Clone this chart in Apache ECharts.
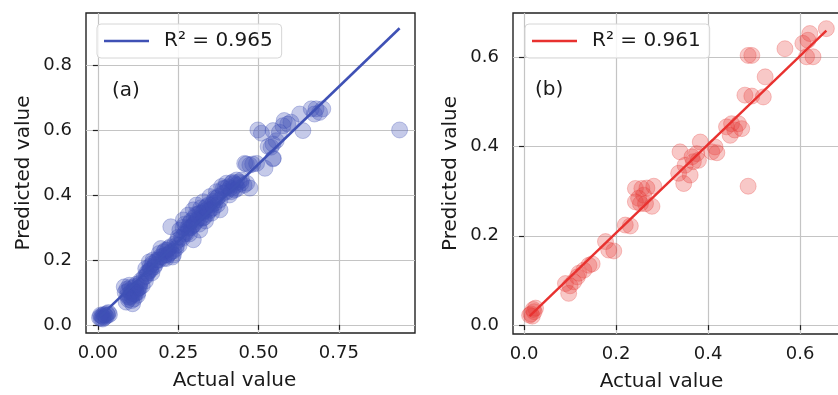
<!DOCTYPE html>
<html>
<head>
<meta charset="utf-8">
<script src="https://cdn.jsdelivr.net/npm/echarts@6/dist/echarts.min.js"></script>
<style>html,body{margin:0;padding:0;background:#fff}#c{width:838px;height:395px}</style>
</head>
<body>
<div id="c"></div>
<script>
// Panel (a)
const aActual = [0.005,0.01,0.012,0.015,0.018,0.02,0.022,0.025,0.028,0.03,0.033,0.036,0.015,0.008,
0.082,0.088,0.092,0.095,0.098,0.1,0.103,0.106,0.108,0.11,0.113,0.115,0.118,0.12,0.123,0.126,0.129,0.132,0.134,0.138,
0.085,0.09,0.095,0.1,0.105,0.11,0.115,0.12,0.125,0.13,0.105,0.095,
0.144,0.148,0.149,0.152,0.155,0.16,0.163,0.165,0.17,0.175,0.18,0.185,0.191,0.196,0.2,0.206,0.21,0.212,0.216,0.222,0.225,0.227,0.232,0.236,0.24,0.243,0.248,0.253,
0.15,0.158,0.162,0.168,0.172,0.178,0.19,0.195,0.205,0.21,0.218,0.22,0.228,0.235,0.245,0.25,
0.255,0.26,0.263,0.266,0.27,0.274,0.276,0.28,0.281,0.284,0.286,0.29,0.295,0.297,0.297,0.3,0.305,0.307,0.31,0.315,0.317,0.317,0.32,0.326,0.328,0.33,0.335,0.338,0.34,0.345,0.349,0.35,0.354,0.36,0.364,0.369,0.372,0.375,0.38,0.385,0.39,0.395,0.4,0.4,0.405,0.41,0.416,0.42,0.426,0.43,0.432,0.44,0.447,0.455,0.463,0.473,
0.265,0.27,0.285,0.29,0.3,0.305,0.31,0.32,0.325,0.33,0.335,0.34,0.345,0.355,0.36,0.365,0.37,0.38,0.39,0.41,0.415,0.42,0.425,0.435,0.445,
0.457,0.462,0.473,0.482,0.494,0.498,0.509,0.52,0.53,0.539,0.545,0.545,0.546,0.545,0.555,0.565,0.576,0.58,0.591,0.601,0.628,0.638,0.664,0.674,0.679,0.69,0.7,0.939];
const aPredicted = [0.022,0.02,0.028,0.025,0.032,0.022,0.03,0.026,0.035,0.03,0.038,0.032,0.018,0.03,
0.117,0.07,0.091,0.105,0.122,0.085,0.101,0.112,0.065,0.095,0.08,0.118,0.106,0.1,0.091,0.112,0.122,0.13,0.137,0.12,
0.1,0.11,0.085,0.115,0.09,0.105,0.095,0.125,0.1,0.115,0.075,0.078,
0.147,0.135,0.173,0.16,0.158,0.194,0.168,0.173,0.189,0.178,0.194,0.2,0.22,0.235,0.21,0.225,0.215,0.204,0.23,0.22,0.24,0.302,0.209,0.228,0.25,0.235,0.26,0.245,
0.15,0.165,0.18,0.16,0.2,0.185,0.2,0.21,0.205,0.23,0.215,0.235,0.225,0.215,0.245,0.27,
0.292,0.27,0.266,0.323,0.28,0.287,0.282,0.3,0.338,0.297,0.313,0.32,0.305,0.262,0.354,0.33,0.318,0.369,0.34,0.31,0.292,0.344,0.33,0.328,0.379,0.35,0.32,0.364,0.34,0.37,0.395,0.355,0.344,0.38,0.39,0.41,0.37,0.395,0.354,0.426,0.405,0.42,0.436,0.41,0.425,0.4,0.436,0.42,0.415,0.43,0.446,0.44,0.446,0.43,0.436,0.421,
0.3,0.31,0.28,0.3,0.31,0.34,0.325,0.36,0.345,0.33,0.36,0.355,0.35,0.37,0.36,0.375,0.39,0.385,0.42,0.42,0.41,0.44,0.435,0.42,0.435,
0.497,0.495,0.492,0.495,0.497,0.6,0.59,0.482,0.549,0.547,0.511,0.557,0.513,0.598,0.567,0.593,0.613,0.629,0.618,0.624,0.649,0.598,0.665,0.649,0.665,0.654,0.665,0.6];
const aFit = [0.019, 0.952]; // intercept, slope
const aLegend = 'R² = 0.965';
const aTag = '(a)';
const aXTicks = [0, 0.25, 0.5, 0.75];
const aYTicks = [0, 0.2, 0.4, 0.6, 0.8];

// Panel (b)
const bActual = [0.012,0.015,0.018,0.02,0.022,0.025,
0.09,0.097,0.1,0.108,0.116,0.119,0.13,0.141,0.148,
0.177,0.184,0.195,0.22,0.231,
0.242,0.256,0.267,0.282,0.242,0.253,0.264,0.278,0.26,0.249,
0.336,0.347,0.361,0.35,0.339,0.368,0.379,0.383,0.375,0.365,0.408,0.419,0.415,
0.44,0.451,0.466,0.473,0.458,0.448,0.487,
0.48,0.495,0.52,0.524,0.487,0.495,
0.567,0.606,0.617,0.621,0.614,0.628,0.657];
const bPredicted = [0.022,0.025,0.02,0.035,0.03,0.038,
0.093,0.071,0.088,0.097,0.108,0.116,0.123,0.134,0.137,
0.187,0.168,0.166,0.224,0.222,
0.306,0.306,0.307,0.311,0.276,0.272,0.272,0.266,0.291,0.284,
0.34,0.317,0.336,0.358,0.388,0.366,0.369,0.41,0.384,0.377,0.388,0.386,0.399,
0.444,0.451,0.451,0.44,0.437,0.425,0.311,
0.515,0.513,0.511,0.556,0.604,0.604,
0.619,0.631,0.638,0.653,0.601,0.601,0.664];
const bFit = [0.008, 0.992];
const bLegend = 'R² = 0.961';
const bTag = '(b)';
const bXTicks = [0, 0.2, 0.4, 0.6];
const bYTicks = [0, 0.2, 0.4, 0.6];

const xName = 'Actual value';
const yName = 'Predicted value';

const FONT = 'DejaVu Sans';
const TXT = '#1a1a1a';
const blue = '#3f51b5';
const red = '#e8312f';

function pairs(xs, ys){ return xs.map((x,i)=>[x, ys[i]]); }
function fitLine(xs, fit){
  const lo = Math.min(...xs), hi = Math.max(...xs);
  return [[lo, fit[0]+fit[1]*lo], [hi, fit[0]+fit[1]*hi]];
}
function xAx(gi, min, max, ticks, dec){
  return {
    type:'value', gridIndex:gi, min:min, max:max,
    name:xName, nameLocation:'middle', nameGap:38,
    nameTextStyle:{fontFamily:FONT, fontSize:20, color:TXT, padding:[0,32,0,0]},
    axisLine:{show:false},
    axisTick:{show:true, inside:false, length:5, customValues:ticks, lineStyle:{color:'#222', width:1.2}},
    axisLabel:{customValues:ticks, formatter:v=>v.toFixed(dec), fontFamily:FONT, fontSize:18, color:TXT, margin:11},
    splitLine:{show:true, lineStyle:{color:'#c4c4c4', width:1.2}}
  };
}
function yAx(gi, min, max, ticks, dec){
  return {
    type:'value', gridIndex:gi, min:min, max:max,
    name:yName, nameLocation:'middle', nameGap:52, nameRotate:90,
    nameTextStyle:{fontFamily:FONT, fontSize:20, color:TXT},
    axisLine:{show:false},
    axisTick:{show:true, inside:false, length:5, customValues:ticks, lineStyle:{color:'#222', width:1.2}},
    axisLabel:{customValues:ticks, formatter:v=>v.toFixed(dec), fontFamily:FONT, fontSize:18, color:TXT, margin:14},
    splitLine:{show:true, lineStyle:{color:'#c4c4c4', width:1.2}}
  };
}
function legend(name, left, top){
  return {
    show:true, left:left, top:top, orient:'horizontal',
    data:[{name:name, icon:'rect'}],
    itemWidth:45, itemHeight:2.5,
    backgroundColor:'rgba(255,255,255,0.85)', borderColor:'#d6d6d6', borderWidth:1, borderRadius:4,
    padding:[7,9,7,7],
    textStyle:{fontFamily:FONT, fontSize:20, color:TXT, padding:[0,0,0,10]},
    selectedMode:false
  };
}

const chart = echarts.init(document.getElementById('c'), null, {renderer:'canvas'});
chart.setOption({
  animation:false,
  backgroundColor:'#fff',
  title:[
    {text:aTag, left:112, top:81, padding:0, textStyle:{fontFamily:FONT, fontSize:20, fontWeight:'normal', color:TXT}},
    {text:bTag, left:535, top:80, padding:0, textStyle:{fontFamily:FONT, fontSize:20, fontWeight:'normal', color:TXT}}
  ],
  grid:[
    {left:86, top:13, width:329, height:320, show:true, borderColor:'#222', borderWidth:1.4, backgroundColor:'transparent', outerBoundsMode:'none', containLabel:false},
    {left:513, top:13, width:329, height:321, show:true, borderColor:'#222', borderWidth:1.4, backgroundColor:'transparent', outerBoundsMode:'none', containLabel:false}
  ],
  xAxis:[ xAx(0, -0.037, 0.987, aXTicks, 2), xAx(1, -0.024, 0.691, bXTicks, 1) ],
  yAxis:[ yAx(0, -0.025, 0.96, aYTicks, 1), yAx(1, -0.02, 0.699, bYTicks, 1) ],
  legend:[ legend(aLegend, 97, 24), legend(bLegend, 525, 24) ],
  series:[
    {type:'scatter', xAxisIndex:0, yAxisIndex:0, data:pairs(aActual, aPredicted), symbolSize:16,
     itemStyle:{color:blue, opacity:0.3, borderColor:blue, borderWidth:1}, silent:true, z:2},
    {name:aLegend, type:'line', xAxisIndex:0, yAxisIndex:0, data:fitLine(aActual, aFit), symbol:'none',
     lineStyle:{color:blue, width:2.6}, itemStyle:{color:blue}, z:3, silent:true},
    {type:'scatter', xAxisIndex:1, yAxisIndex:1, data:pairs(bActual, bPredicted), symbolSize:16,
     itemStyle:{color:'#e53935', opacity:0.28, borderColor:'#e53935', borderWidth:1}, silent:true, z:2},
    {name:bLegend, type:'line', xAxisIndex:1, yAxisIndex:1, data:fitLine(bActual, bFit), symbol:'none',
     lineStyle:{color:red, width:2.4}, itemStyle:{color:red}, z:3, silent:true}
  ]
});
</script>
</body>
</html>
